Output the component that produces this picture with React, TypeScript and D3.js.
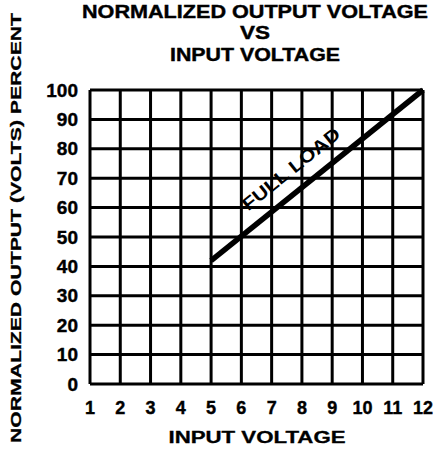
import React from 'react';
import * as d3 from 'd3';

// 数据
const xTickLabels = ['1', '2', '3', '4', '5', '6', '7', '8', '9', '10', '11', '12'];
const yTickValues = [0, 10, 20, 30, 40, 50, 60, 70, 80, 90, 100];
const fullLoadInput = [5, 12];
const fullLoadOutput = [42, 100];
const titleLines = ['NORMALIZED OUTPUT VOLTAGE', 'VS', 'INPUT VOLTAGE'];

const W = 436;
const H = 450;
const FONT = '"Liberation Sans", Arial, Helvetica, sans-serif';

export default function App() {
  const left = 90;
  const right = 423;
  const top = 90;
  const bottom = 384;

  const x = d3.scaleLinear().domain([1, 12]).range([left, right]);
  const y = d3.scaleLinear().domain([0, 100]).range([bottom, top]);

  const pts: [number, number][] = fullLoadInput.map((v, i) => [v, fullLoadOutput[i]]);
  const line = d3
    .line<[number, number]>()
    .x((d) => x(d[0]))
    .y((d) => y(d[1]));

  // 标签沿线放置
  const x0 = x(fullLoadInput[0]);
  const y0 = y(fullLoadOutput[0]);
  const x1 = x(fullLoadInput[1]);
  const y1 = y(fullLoadOutput[1]);
  const ang = Math.atan2(y1 - y0, x1 - x0);
  const t = 0.44;
  const mx = x0 + (x1 - x0) * t;
  const my = y0 + (y1 - y0) * t;
  const off = 15;
  const lx = mx + Math.sin(ang) * off;
  const ly = my - Math.cos(ang) * off;

  const titleWidths = [346, 30, 170];
  const titleBase = [18, 39, 61];

  return (
    <div>
      <style>{'body{margin:0}'}</style>
      <svg width={W} height={H} style={{ display: 'block' }} fontFamily={FONT} fontWeight="bold">
        <rect width={W} height={H} fill="#fff" />

        {titleLines.map((s, i) => (
          <text
            key={s}
            x={255}
            y={titleBase[i]}
            fontSize={18}
            textAnchor="middle"
            textLength={titleWidths[i]}
            lengthAdjust="spacingAndGlyphs"
            stroke="#000"
            strokeWidth={0.4}
          >
            {s}
          </text>
        ))}

        {/* 网格 */}
        <g stroke="#000" strokeWidth={3}>
          {xTickLabels.map((_, i) => (
            <line key={'v' + i} x1={x(i + 1)} x2={x(i + 1)} y1={top} y2={bottom} />
          ))}
          {yTickValues.map((v) => (
            <line key={'h' + v} x1={left} x2={right} y1={y(v)} y2={y(v)} />
          ))}
        </g>

        <path d={line(pts) || ''} fill="none" stroke="#000" strokeWidth={5.5} />

        <text
          x={lx}
          y={ly}
          fontSize={18}
          textAnchor="middle"
          textLength={120}
          lengthAdjust="spacingAndGlyphs"
          transform={`rotate(${(ang * 180) / Math.PI}, ${lx}, ${ly})`}
        >
          FULL LOAD
        </text>

        {/* y 轴刻度 */}
        {yTickValues.map((v) => (
          <text
            key={'yt' + v}
            x={78}
            y={y(v) + 6.5}
            fontSize={19}
            textAnchor="end"
            stroke="#000"
            strokeWidth={0.4}
          >
            {v}
          </text>
        ))}

        {/* x 轴刻度 */}
        {xTickLabels.map((s, i) => (
          <text
            key={'xt' + s}
            x={x(i + 1)}
            y={414}
            fontSize={18}
            textAnchor="middle"
            stroke="#000"
            strokeWidth={0.4}
          >
            {s}
          </text>
        ))}

        <text
          x={257}
          y={443}
          fontSize={16}
          textAnchor="middle"
          textLength={177}
          lengthAdjust="spacingAndGlyphs"
          stroke="#000"
          strokeWidth={0.3}
        >
          INPUT VOLTAGE
        </text>

        <text
          transform="translate(21, 228) rotate(-90)"
          fontSize={15}
          textAnchor="middle"
          textLength={430}
          lengthAdjust="spacingAndGlyphs"
          stroke="#000"
          strokeWidth={0.3}
        >
          NORMALIZED OUTPUT (VOLTS) PERCENT
        </text>
      </svg>
    </div>
  );
}
